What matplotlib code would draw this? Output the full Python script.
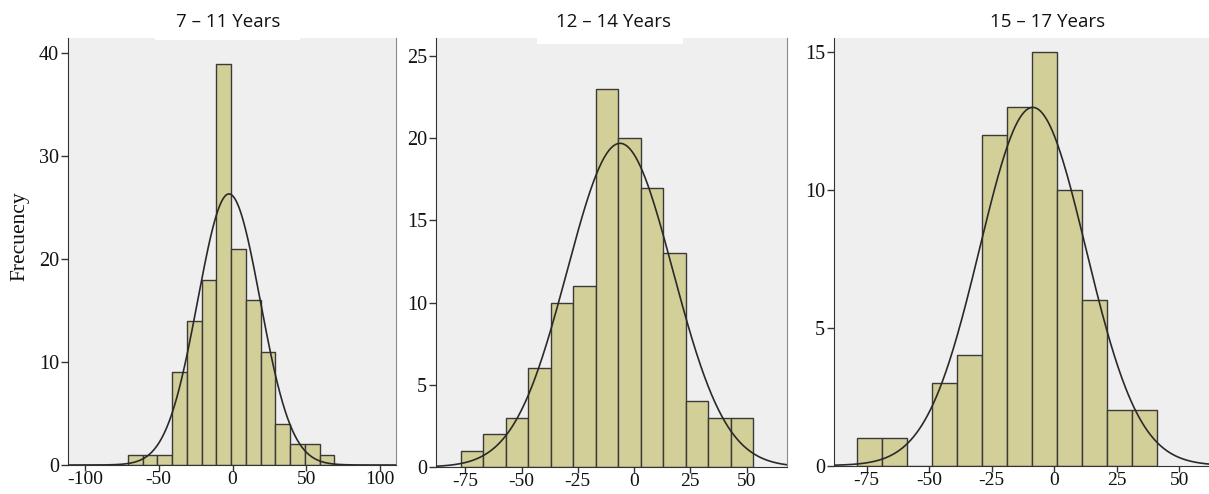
import numpy as np
import matplotlib
matplotlib.use("Agg")
import matplotlib.pyplot as plt
from matplotlib.patches import Rectangle

plt.rcParams["axes.unicode_minus"] = False

# ---------------- data ----------------
titles = ["7 \u2013 11 Years", "12 \u2013 14 Years", "15 \u2013 17 Years"]

edges_1 = [-71, -61, -51, -41, -31, -21, -11, -1, 9, 19, 29, 39, 49, 59, 69]
counts_1 = [1, 1, 1, 9, 14, 18, 39, 21, 16, 11, 4, 2, 2, 1]
mean_1, sd_1 = -2.4, 21.2

edges_2 = [-77, -67, -57, -47, -37, -27, -17, -7, 3, 13, 23, 33, 43, 53]
counts_2 = [1, 2, 3, 6, 10, 11, 23, 20, 17, 13, 4, 3, 3]
mean_2, sd_2 = -6.2, 23.5

edges_3 = [-79, -69, -59, -49, -39, -29, -19, -9, 1, 11, 21, 31, 41]
counts_3 = [1, 1, 0, 3, 4, 12, 13, 15, 10, 6, 2, 2]
mean_3, sd_3 = -8.6, 21.2

xticks_1 = [-100, -50, 0, 50, 100]
xticks_23 = [-75, -50, -25, 0, 25, 50]
yticks_1 = [0, 10, 20, 30, 40]
yticks_2 = [0, 5, 10, 15, 20, 25]
yticks_3 = [0, 5, 10, 15]

# ---------------- style ----------------
W, H = 1209, 494
fig = plt.figure(figsize=(W / 100, H / 100), dpi=100)
fig.patch.set_facecolor("white")

BAR = "#D3CF98"
BG = "#EFEFEF"
SERIF = "Liberation Serif"


def px_axes(l, r, t, b):
    return fig.add_axes([l / W, 1 - b / H, (r - l) / W, (b - t) / H])


panels = [
    dict(box=(68, 396, 38, 465), edges=edges_1, counts=counts_1, mu=mean_1, sd=sd_1,
         xlim=(-111.5, 110.8), ylim=(0, 41.5), xt=xticks_1, yt=yticks_1,
         tx=228, right=True),
    dict(box=(436, 787, 38, 467), edges=edges_2, counts=counts_2, mu=mean_2, sd=sd_2,
         xlim=(-88, 68), ylim=(0, 26.1), xt=xticks_23, yt=yticks_2,
         tx=613, right=True),
    dict(box=(834, 1212, 38, 465.5), edges=edges_3, counts=counts_3, mu=mean_3, sd=sd_3,
         xlim=(-88, 63), ylim=(0, 15.5), xt=xticks_23, yt=yticks_3,
         tx=1048, right=False),
]

for i, p in enumerate(panels):
    ax = px_axes(*p["box"])
    ax.set_facecolor(BG)
    e = np.array(p["edges"], dtype=float)
    c = np.array(p["counts"], dtype=float)
    ax.bar(e[:-1], c, width=np.diff(e), align="edge", color=BAR,
           edgecolor="#3a3a3a", linewidth=1.0, zorder=2)
    n = c.sum()
    bw = np.mean(np.diff(e))
    xs = np.linspace(p["xlim"][0], p["xlim"][1], 400)
    ys = n * bw / (p["sd"] * np.sqrt(2 * np.pi)) * np.exp(-0.5 * ((xs - p["mu"]) / p["sd"]) ** 2)
    ax.plot(xs, ys, color="#2a2a2a", linewidth=1.2, zorder=3)
    ax.set_xlim(*p["xlim"])
    ax.set_ylim(*p["ylim"])
    ax.set_xticks(p["xt"])
    ax.set_yticks(p["yt"])
    ax.tick_params(axis="y", direction="out", length=5, width=1, color="#333333",
                   labelsize=14.5, pad=1.5)
    ax.tick_params(axis="x", direction="out", length=4, width=1, color="#333333",
                   labelsize=14, pad=0.5)
    for lab in ax.get_xticklabels() + ax.get_yticklabels():
        lab.set_family(SERIF)
        lab.set_color("#111111")
    ax.spines["top"].set_visible(False)
    ax.spines["left"].set_color("#333333")
    ax.spines["bottom"].set_color("#333333")
    if p["right"]:
        ax.spines["right"].set_color("#888888")
    else:
        ax.spines["right"].set_visible(False)
    fig.text(p["tx"] / W, 1 - 22 / H, titles[i], ha="center", va="center",
             fontsize=13.5, family="Open Sans", color="#111111")

# white title boxes overlapping plot tops
fig.patches.append(Rectangle((155 / W, 1 - 40 / H), 145 / W, 40 / H,
                             transform=fig.transFigure, facecolor="white",
                             edgecolor="none", zorder=1))
fig.patches.append(Rectangle((537 / W, 1 - 44 / H), 146 / W, 44 / H,
                             transform=fig.transFigure, facecolor="white",
                             edgecolor="none", zorder=1))

fig.text(20 / W, 1 - 236 / H, "Frecuency", rotation=90, ha="center", va="center",
         fontsize=15.5, family=SERIF, color="#111111")

for t in fig.texts:
    t.set_zorder(5)

fig.savefig("out.png", dpi=100)
